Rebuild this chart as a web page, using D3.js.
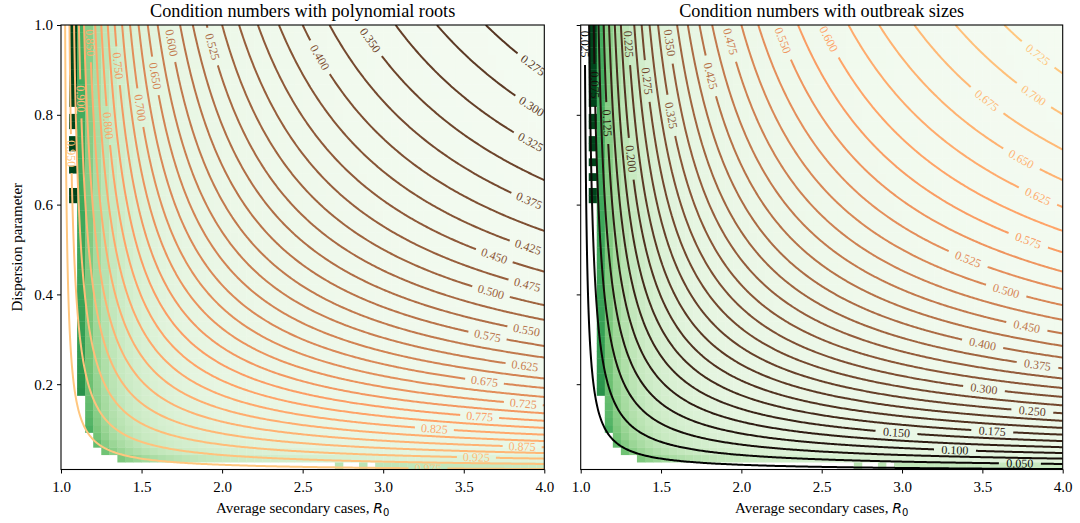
<!DOCTYPE html>
<html><head><meta charset="utf-8">
<script src="https://cdn.jsdelivr.net/npm/d3@7"></script>
<style>
body{margin:0;background:#fff}
svg{display:block}
text{font-family:"Liberation Serif","Times New Roman",serif;fill:#000}
</style>
</head><body>
<svg id="chart" width="1080" height="523"></svg>
<script>
// ------------------------------------------------------------------ data
const R0Domain = [1.0, 4.0];
const kDomain = [0.01, 1.0];
const xTickValues = [1.0, 1.5, 2.0, 2.5, 3.0, 3.5, 4.0];
const yTickValues = [0.2, 0.4, 0.6, 0.8, 1.0];
const extinctionLevels = [0.025, 0.050, 0.075, 0.100, 0.125, 0.150, 0.175, 0.200, 0.225, 0.250,
  0.275, 0.300, 0.325, 0.350, 0.375, 0.400, 0.425, 0.450, 0.475, 0.500,
  0.525, 0.550, 0.575, 0.600, 0.625, 0.650, 0.675, 0.700, 0.725, 0.750,
  0.775, 0.800, 0.825, 0.850, 0.875, 0.900, 0.925, 0.950, 0.975];
const outbreakLevels = [0.025, 0.050, 0.075, 0.100, 0.125, 0.150, 0.175, 0.200, 0.225, 0.250,
  0.275, 0.300, 0.325, 0.350, 0.375, 0.400, 0.425, 0.450, 0.475, 0.500,
  0.525, 0.550, 0.575, 0.600, 0.625, 0.650, 0.675, 0.700, 0.725];
const panelTitles = ["Condition numbers with polynomial roots", "Condition numbers with outbreak sizes"];
const panelQuantity = ["extinction", "outbreak"];
const xAxisLabel = "Average secondary cases, ";
const yAxisLabel = "Dispersion parameter";
// condition-number images: 60 x 60 cells, NaN cells
const heatColumns = 60, heatRows = 60;
const secondColumnValidRows = [
  [36, 37, 40, 43, 44, 46, 47, 49, 50, 51, 52, 53, 54, 55, 56, 57, 58, 59],
  [36, 37, 39, 41, 43, 44, 46, 47, 49, 50, 51, 52, 53, 54, 55, 56, 57, 58, 59]
];
const lowestValidRow = [60, 60, 10, 5, 3, 2, 2, 1];
const bottomRowValidColumns = [34, 37, 39, 40, 41, 42, 43, 44, 45, 46, 47, 48, 49, 50, 51, 52, 53, 54, 55, 56, 57, 58, 59];
const greens = ["#f7fcf5", "#e5f5e0", "#c7e9c0", "#a1d99b", "#74c476", "#41ab5d", "#238b45", "#006d2c", "#00441b"];
const conditionRange = [1.07, 14.4];

// ------------------------------------------------------------------ layout
const W = 1080, H = 523;
const Y0 = 25, Y1 = 469.5;
const panelsX = [[61, 544.3], [580.7, 1062.7]];
const PANEL_GRID = [[300, 350], [350, 350]];   // contour sampling grid per panel
const PANEL_LABEL_WIDTH = [29, 32];            // label width used for placement
const ORIENT = ["right", "top"];
const LABEL_FONT = 12;
const INLINE_SPACING = 5;

const svg = d3.select("#chart");

// ------------------------------------------------------------------ model
function extinction(R0, k) {
  if (R0 <= 1) return 1;
  let lo = 0, hi = 1 - 1e-13;
  for (let i = 0; i < 50; i++) {
    const m = (lo + hi) / 2;
    const f = Math.pow(1 + R0 * (1 - m) / k, -k) - m;
    if (f > 0) lo = m; else hi = m;
  }
  return (lo + hi) / 2;
}
function condition(R0, k, q) {
  const d = Math.abs(1 - R0 * Math.pow(q, 1 + 1 / k));
  return (1 / d) * (1 + 0.03 / k);
}

const greenScale = d3.scaleLinear()
  .domain(greens.map((c, i) => i / (greens.length - 1)))
  .range(greens).interpolate(d3.interpolateRgb).clamp(true);
function copper(t) {
  t = Math.max(0, Math.min(1, t));
  const r = Math.min(1, 1.25 * t), g = 0.7812 * t, b = 0.4975 * t;
  return d3.rgb(r * 255, g * 255, b * 255).toString();
}

function isoLines(values, level, NX, NY) {
  const c = d3.contours().size([NX, NY]).thresholds([level])(values)[0];
  const lines = [];
  const onB = p => p[0] <= 0 || p[0] >= NX || p[1] <= 0 || p[1] >= NY;
  for (const poly of c.coordinates) for (const ring of poly) {
    const pts = ring.slice(0, ring.length - 1);
    const s = pts.findIndex(onB);
    if (s < 0) { lines.push(ring.slice()); continue; }
    let cur = [];
    for (let t = 0; t <= pts.length; t++) {
      const p = pts[(s + t) % pts.length];
      if (onB(p)) { if (cur.length > 1) lines.push(cur); cur = []; }
      else cur.push(p);
    }
    if (cur.length > 1) lines.push(cur);
  }
  return lines;
}

// matplotlib-like label placement
function locateLabel(pts, lw, placed) {
  const n = pts.length;
  const nb = lw > 1 ? Math.ceil(n / lw) : 1;
  const B = nb === 1 ? n : Math.floor(lw);
  const dist = [];
  for (let b = 0; b < nb; b++) {
    const P = j => pts[(b * B + j) % n];
    const f = P(0), l = P(B - 1);
    const L = Math.hypot(l[0] - f[0], l[1] - f[1]);
    let s = 0;
    for (let j = 0; j < B; j++) {
      const p = P(j);
      const cr = (f[1] - p[1]) * (l[0] - f[0]) - (f[0] - p[0]) * (l[1] - f[1]);
      s += Math.abs(cr) / L;
    }
    dist.push(s);
  }
  const order = d3.range(nb).sort((a, b) => {
    const da = isNaN(dist[a]) ? Infinity : dist[a], db = isNaN(dist[b]) ? Infinity : dist[b];
    return da - db || a - b;
  });
  const hb = Math.floor(B / 2);
  const thresh = (1.2 * lw) ** 2;
  let idx = order[0];
  for (const o of order.concat([order[0]])) {
    idx = o;
    const p = pts[(o * B + hb) % n];
    if (!placed.some(q => (p[0] - q[0]) ** 2 + (p[1] - q[1]) ** 2 < thresh)) break;
  }
  return (idx * B + hb) % n;
}
function splitLine(pts, idx, lw, spacing) {
  const n = pts.length;
  const cpl = [0];
  for (let i = 1; i < n; i++) cpl.push(cpl[i - 1] + Math.hypot(pts[i][0] - pts[i - 1][0], pts[i][1] - pts[i - 1][1]));
  const base = cpl[idx];
  for (let i = 0; i < n; i++) cpl[i] -= base;
  const seg = t => { let i = 0; while (i < n - 2 && cpl[i + 1] < t) i++; return i; };
  const ip = t => {
    if (t <= cpl[0]) return pts[0];
    if (t >= cpl[n - 1]) return pts[n - 1];
    const i = seg(t); const d = cpl[i + 1] - cpl[i]; const f = d > 0 ? (t - cpl[i]) / d : 0;
    return [pts[i][0] + f * (pts[i + 1][0] - pts[i][0]), pts[i][1] + f * (pts[i + 1][1] - pts[i][1])];
  };
  const ii = t => {
    if (t < cpl[0] || t > cpl[n - 1]) return -1;
    const i = seg(t); const d = cpl[i + 1] - cpl[i]; const f = d > 0 ? (t - cpl[i]) / d : 0;
    return i + f;
  };
  const a = ip(-lw / 2), b = ip(lw / 2);
  let ang = Math.atan2(b[1] - a[1], b[0] - a[0]) * 180 / Math.PI;
  ang = (((ang + 90) % 180) + 180) % 180 - 90;
  const t0 = -lw / 2 - spacing, t1 = lw / 2 + spacing;
  let i0 = ii(t0), i1 = ii(t1);
  if (i0 !== -1) i0 = Math.floor(i0);
  if (i1 !== -1) i1 = Math.ceil(i1);
  const pieces = [];
  if (i0 !== -1) pieces.push(pts.slice(0, i0 + 1).concat([ip(t0)]));
  if (i1 !== -1) pieces.push([ip(t1)].concat(pts.slice(i1)));
  return { ang, pieces };
}

// ------------------------------------------------------------------ panels
const defs = svg.append("defs");
panelsX.forEach((px, pi) => {
  const [NX, NY] = PANEL_GRID[pi];
  const LW = PANEL_LABEL_WIDTH[pi];
  const x = d3.scaleLinear().domain(R0Domain).range(px);
  const y = d3.scaleLinear().domain(kDomain).range([Y1, Y0]);
  const clipId = "clip" + pi;
  defs.append("clipPath").attr("id", clipId).append("rect")
    .attr("x", px[0]).attr("y", Y0).attr("width", px[1] - px[0]).attr("height", Y1 - Y0);
  const g = svg.append("g");
  const plot = g.append("g").attr("clip-path", `url(#${clipId})`);

  // condition-number image
  const cw = (R0Domain[1] - R0Domain[0]) / heatColumns;
  const ch = (kDomain[1] - kDomain[0]) / heatRows;
  const cells = [];
  for (let c = 0; c < heatColumns; c++) for (let r = 0; r < heatRows; r++) {
    let valid;
    if (c === 1) valid = secondColumnValidRows[pi].includes(r);
    else if (c < lowestValidRow.length) valid = r >= lowestValidRow[c];
    else valid = r >= 1 || bottomRowValidColumns.includes(c);
    if (!valid) continue;
    const R0 = R0Domain[0] + (c + 0.5) * cw, k = kDomain[0] + (r + 0.5) * ch;
    const q = extinction(R0, k);
    const kap = condition(R0, k, q);
    cells.push({ c, r, t: (kap - conditionRange[0]) / (conditionRange[1] - conditionRange[0]) });
  }
  plot.append("g").selectAll("rect").data(cells).join("rect")
    .attr("x", d => x(R0Domain[0] + d.c * cw))
    .attr("y", d => y(kDomain[0] + (d.r + 1) * ch))
    .attr("width", d => x(R0Domain[0] + (d.c + 1) * cw) - x(R0Domain[0] + d.c * cw) + 0.4)
    .attr("height", d => y(kDomain[0] + d.r * ch) - y(kDomain[0] + (d.r + 1) * ch) + 0.4)
    .attr("fill", d => greenScale(d.t));

  // sampled field for contours
  const field = new Float64Array(NX * NY);
  for (let j = 0; j < NY; j++) {
    const k = kDomain[0] + j * (kDomain[1] - kDomain[0]) / (NY - 1);
    for (let i = 0; i < NX; i++) {
      const R0 = R0Domain[0] + i * (R0Domain[1] - R0Domain[0]) / (NX - 1);
      const q = extinction(R0, k);
      field[i + j * NX] = panelQuantity[pi] === "extinction" ? q : 1 - q;
    }
  }

  // contours + labels
  const levels = panelQuantity[pi] === "extinction" ? extinctionLevels : outbreakLevels;
  const lvMin = d3.min(levels), lvMax = d3.max(levels);
  const gx = v => R0Domain[0] + (v - 0.5) * (R0Domain[1] - R0Domain[0]) / (NX - 1);
  const gy = v => kDomain[0] + (v - 0.5) * (kDomain[1] - kDomain[0]) / (NY - 1);
  const placed = [];
  const lineGen = d3.line();
  const lineG = plot.append("g").attr("fill", "none").attr("stroke-width", 2).attr("stroke-linejoin", "round");
  const labelG = plot.append("g");
  levels.forEach(level => {
    const col = copper((level - lvMin) / (lvMax - lvMin));
    const lines = isoLines(field, level, NX, NY);
    lines.forEach(gl => {
      let pts = gl.map(p => [x(gx(p[0])), y(gy(p[1]))]);
      const a0 = Math.atan2(Y1 - pts[0][1], pts[0][0] - px[0]);
      const a1 = Math.atan2(Y1 - pts[pts.length - 1][1], pts[pts.length - 1][0] - px[0]);
      const wantTop = ORIENT[pi] === "top";
      if ((wantTop && a0 < a1) || (!wantTop && a0 > a1)) pts = pts.slice().reverse();
      const xs = pts.map(p => p[0]), ys = pts.map(p => p[1]);
      const printable = pts.length > 10 * LW || (d3.max(xs) - d3.min(xs)) > 1.2 * LW || (d3.max(ys) - d3.min(ys)) > 1.2 * LW;
      if (!printable) {
        lineG.append("path").attr("d", lineGen(pts)).attr("stroke", col);
        return;
      }
      const idx = locateLabel(pts, LW, placed);
      const lp = pts[idx];
      placed.push(lp);
      const sp = splitLine(pts, idx, LW, INLINE_SPACING);
      sp.pieces.forEach(pc => lineG.append("path").attr("d", lineGen(pc)).attr("stroke", col));
      labelG.append("text")
        .attr("transform", `translate(${lp[0]},${lp[1]}) rotate(${sp.ang})`)
        .attr("text-anchor", "middle").attr("dy", "0.33em")
        .attr("font-size", LABEL_FONT).style("fill", col)
        .text(level.toFixed(3));
    });
  });

  // axes
  const xa = g.append("g").attr("transform", `translate(0,${Y1})`)
    .call(d3.axisBottom(x).tickValues(xTickValues).tickFormat(d3.format(".1f")).tickSize(4).tickPadding(4));
  const ya = g.append("g").attr("transform", `translate(${px[0]},0)`)
    .call(d3.axisLeft(y).tickValues(yTickValues).tickFormat(pi === 0 ? d3.format(".1f") : () => "").tickSize(4).tickPadding(4));
  [xa, ya].forEach(a => {
    a.select(".domain").remove();
    a.selectAll("text").attr("font-size", 15).attr("font-family", "Liberation Serif").style("fill", "#000");
    a.selectAll("line").attr("stroke", "#000").attr("stroke-width", 1);
  });
  xa.selectAll("text").attr("dy", "0.95em");
  g.append("rect").attr("x", px[0]).attr("y", Y0).attr("width", px[1] - px[0]).attr("height", Y1 - Y0)
    .attr("fill", "none").attr("stroke", "#000").attr("stroke-width", 1.1);

  g.append("text").attr("x", (px[0] + px[1]) / 2).attr("y", 17).attr("text-anchor", "middle")
    .attr("font-size", 18.2).text(panelTitles[pi]);
  const xl = g.append("text").attr("x", (px[0] + px[1]) / 2).attr("y", 513).attr("text-anchor", "middle")
    .attr("font-size", 15).text(xAxisLabel);
  xl.append("tspan").attr("font-family", "DejaVu Sans").attr("font-style", "italic").attr("font-size", 14).text("R");
  xl.append("tspan").attr("font-family", "DejaVu Sans").attr("font-size", 10).attr("dy", 2.5).text("0");
  if (pi === 0) {
    g.append("text").attr("transform", `translate(22,${(Y0 + Y1) / 2}) rotate(-90)`)
      .attr("text-anchor", "middle").attr("font-size", 15).text(yAxisLabel);
  }
});
</script>
</body></html>
